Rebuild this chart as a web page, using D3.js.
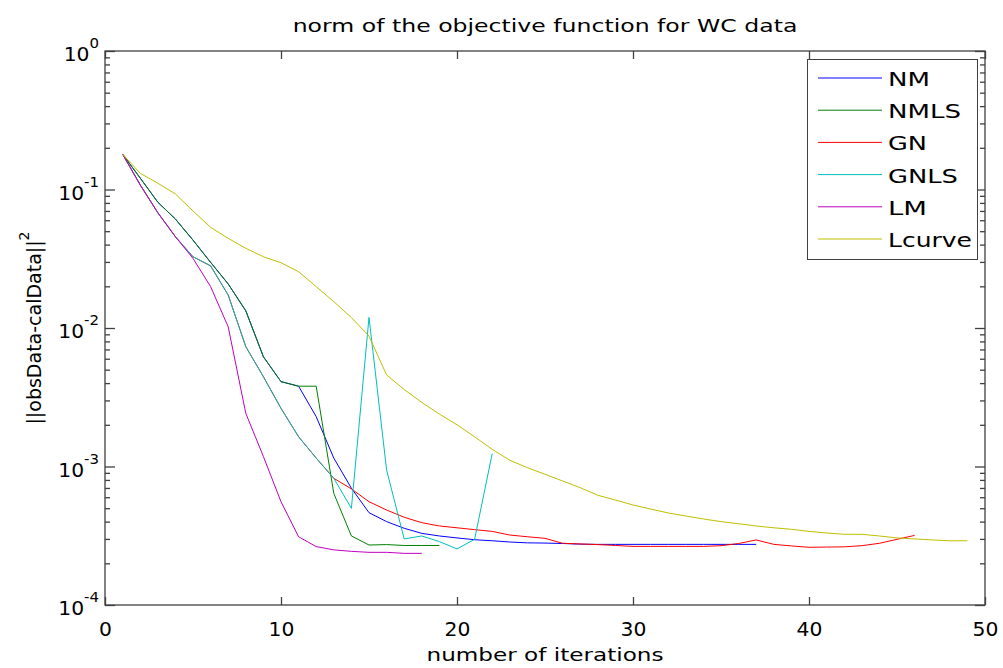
<!DOCTYPE html>
<html>
<head>
<meta charset="utf-8">
<script src="https://cdn.jsdelivr.net/npm/d3@7/dist/d3.min.js"></script>
<style>
  html, body { margin: 0; padding: 0; background: #fff; }
  svg { display: block; }
  text { font-family: "DejaVu Sans", sans-serif; fill: #000; }
</style>
</head>
<body>
<script>
// ---- data ----
const seriesNames = ["NM", "NMLS", "GN", "GNLS", "LM", "Lcurve"];
const seriesColors = ["#0000ff", "#008000", "#ff0000", "#00bfbf", "#bf00bf", "#bfbf00"];

const NM = [0.18, 0.121, 0.081, 0.0612, 0.0431, 0.0298, 0.0208, 0.0133, 0.0062, 0.0041, 0.0038,
  0.00229, 0.00115, 0.000697, 0.000464, 0.000400, 0.000358, 0.000329, 0.000315, 0.000305,
  0.000296, 0.000291, 0.000285, 0.000281, 0.000280, 0.000278, 0.000275,
  0.000274, 0.000274, 0.000274, 0.000274, 0.000274, 0.000274, 0.000274, 0.000274, 0.000274, 0.000274];
const NMLS = [0.18, 0.121, 0.081, 0.0612, 0.0431, 0.0298, 0.0208, 0.0133, 0.0062, 0.0041, 0.0038,
  0.0038, 0.00064, 0.000315, 0.000271, 0.000273, 0.000269, 0.000269, 0.000269];
const GN = [0.18, 0.108, 0.068, 0.0456, 0.0327, 0.0281, 0.0173, 0.00733, 0.00445, 0.00263, 0.00164,
  0.00115, 0.000822,
  0.000689, 0.000557, 0.000485, 0.00043, 0.000393, 0.000372, 0.000361, 0.00035, 0.00034, 0.00032,
  0.000311, 0.000303, 0.000279, 0.000276, 0.000273, 0.000269, 0.000265, 0.000265, 0.000265,
  0.000265, 0.000265, 0.000268, 0.000278, 0.000295, 0.000274, 0.000267, 0.000261, 0.000262,
  0.000263, 0.000268, 0.000279, 0.000298, 0.000318];
const GNLS = [0.18, 0.108, 0.068, 0.0456, 0.0327, 0.0281, 0.0173, 0.00733, 0.00445, 0.00263, 0.00164,
  0.00115, 0.000822, 0.000499, 0.01194, 0.000944, 0.0003, 0.000315, 0.000287, 0.000254, 0.000298, 0.00124];
const LM = [0.18, 0.108, 0.068, 0.0456, 0.0318, 0.0199, 0.0102, 0.00242, 0.00118, 0.000557, 0.000311,
  0.000264, 0.00025, 0.000244, 0.00024, 0.00024, 0.000236, 0.000236];
const Lcurve = [0.18, 0.131, 0.111, 0.0929, 0.07, 0.0533, 0.0444, 0.0376, 0.0327, 0.0296, 0.0255,
  0.0199, 0.0155, 0.0119, 0.00875, 0.00458, 0.0036, 0.0029, 0.00239, 0.002, 0.00164, 0.00133,
  0.00111, 0.00098, 0.000879, 0.000786, 0.000703, 0.00062, 0.000573, 0.000527, 0.000493,
  0.000462, 0.000439, 0.000418, 0.0004, 0.000386, 0.000372, 0.000361, 0.000352, 0.00034,
  0.000331, 0.000324, 0.000324, 0.000315, 0.000305, 0.0003, 0.000295, 0.000291, 0.000291];

const xTicks = [0, 10, 20, 30, 40, 50];
const yExponents = [-4, -3, -2, -1, 0];

const titleText = "norm of the objective function for WC data";
const xLabelText = "number of iterations";
const yLabelText = "||obsData-calData||";
const yLabelSup = "2";

// ---- layout ----
const W = 1003, H = 668;
const L = 105, R = 985, T = 51, B = 605;
const axisColor = "#404040";

const svg = d3.select("body").append("svg").attr("width", W).attr("height", H);
svg.append("rect").attr("width", W).attr("height", H).attr("fill", "#fff");

const x = d3.scaleLinear().domain([0, 50]).range([L, R]);
const y = d3.scaleLog().domain([1e-4, 1]).range([B, T]);

const allSeries = [NM, NMLS, GN, GNLS, LM, Lcurve];

// stretch a text horizontally to a target width (anchor-preserving)
function stretch(sel, px, py, target) {
  const w = sel.node().getComputedTextLength();
  const s = target / w;
  sel.attr("x", 0).attr("y", 0).attr("transform", `translate(${px},${py}) scale(${s},1)`);
}

// clip
svg.append("clipPath").attr("id", "plotclip").append("rect")
  .attr("x", L).attr("y", T).attr("width", R - L).attr("height", B - T);

// lines
const line = d3.line().x((d, i) => x(i + 1)).y(d => y(d));
const gLines = svg.append("g").attr("clip-path", "url(#plotclip)");
allSeries.forEach((s, k) => {
  gLines.append("path").datum(s)
    .attr("d", line)
    .attr("fill", "none")
    .attr("stroke", seriesColors[k])
    .attr("stroke-width", 1);
});

// axes box
svg.append("rect").attr("x", L).attr("y", T).attr("width", R - L).attr("height", B - T)
  .attr("fill", "none").attr("stroke", axisColor).attr("stroke-width", 1.3);

// x axis ticks (inward) bottom and top
const xAxisB = d3.axisBottom(x).tickValues(xTicks).tickSizeInner(-8).tickSizeOuter(0)
  .tickPadding(25).tickFormat(d3.format("d"));
const gxb = svg.append("g").attr("transform", `translate(0,${B})`).call(xAxisB);
gxb.select(".domain").remove();
gxb.selectAll(".tick line").attr("stroke", axisColor).attr("stroke-width", 1.3);
gxb.selectAll(".tick text").attr("font-family", "DejaVu Sans").attr("font-size", 19)
  .attr("fill", "#000").attr("dy", 0).attr("y", 31)
  .attr("transform", "scale(1.07,1)");
gxb.selectAll(".tick").each(function(d) {
  d3.select(this).select("text").attr("transform", "scale(1.07,1)");
});

const xAxisT = d3.axisTop(x).tickValues(xTicks).tickSizeInner(-8).tickSizeOuter(0).tickFormat("");
const gxt = svg.append("g").attr("transform", `translate(0,${T})`).call(xAxisT);
gxt.select(".domain").remove();
gxt.selectAll(".tick line").attr("stroke", axisColor).attr("stroke-width", 1.3);

// y axis: major and minor ticks, both sides
const majorVals = yExponents.map(e => Math.pow(10, e));
const minorVals = [];
yExponents.slice(0, -1).forEach(e => {
  for (let m = 2; m <= 9; m++) minorVals.push(m * Math.pow(10, e));
});

function yTicks(vals, size, side) {
  const ax = side === "left" ? d3.axisLeft(y) : d3.axisRight(y);
  ax.tickValues(vals).tickSizeInner(-size).tickSizeOuter(0).tickFormat("");
  const g = svg.append("g").attr("transform", `translate(${side === "left" ? L : R},0)`).call(ax);
  g.select(".domain").remove();
  g.selectAll(".tick line").attr("stroke", axisColor).attr("stroke-width", 1.3);
  return g;
}
yTicks(majorVals, 10, "left");
yTicks(minorVals, 5, "left");
yTicks(majorVals, 10, "right");
yTicks(minorVals, 5, "right");

// y tick labels 10^e
const gyl = svg.append("g");
yExponents.forEach(e => {
  const t = gyl.append("text")
    .attr("text-anchor", "end").attr("font-size", 19)
    .attr("transform", `translate(99,${y(Math.pow(10, e)) + 10}) scale(1.07,1)`);
  t.append("tspan").text("10");
  t.append("tspan").attr("font-size", 14).attr("dy", -13).text(String(e));
});

// title
const title = svg.append("text").attr("text-anchor", "middle").attr("font-size", 18).text(titleText);
stretch(title, (L + R) / 2, 32, 505);

// x label
const xl = svg.append("text").attr("text-anchor", "middle").attr("font-size", 18).text(xLabelText);
stretch(xl, (L + R) / 2, 661, 237);

// y label
const yl = svg.append("text")
  .attr("transform", `translate(41,${(T + B) / 2}) rotate(-90)`)
  .attr("text-anchor", "middle").attr("font-size", 19);
yl.append("tspan").text(yLabelText);
yl.append("tspan").attr("font-size", 14).attr("dy", -12).text(yLabelSup);

// legend
const lgX = 807, lgY = 59, lgW = 170, lgH = 200;
const lg = svg.append("g");
lg.append("rect").attr("x", lgX + 0.5).attr("y", lgY + 0.5).attr("width", lgW).attr("height", lgH)
  .attr("fill", "#fff").attr("stroke", axisColor).attr("stroke-width", 1);
const legendLen = [42, 73, 39, 70, 39, 84];
seriesNames.forEach((n, k) => {
  const ly = 78 + k * 32.2;
  lg.append("line").attr("x1", 818).attr("x2", 882).attr("y1", ly).attr("y2", ly)
    .attr("stroke", seriesColors[k]).attr("stroke-width", 1);
  const t = lg.append("text").attr("font-size", 19).text(n);
  stretch(t, 888, ly + 8, legendLen[k]);
});
</script>
</body>
</html>
